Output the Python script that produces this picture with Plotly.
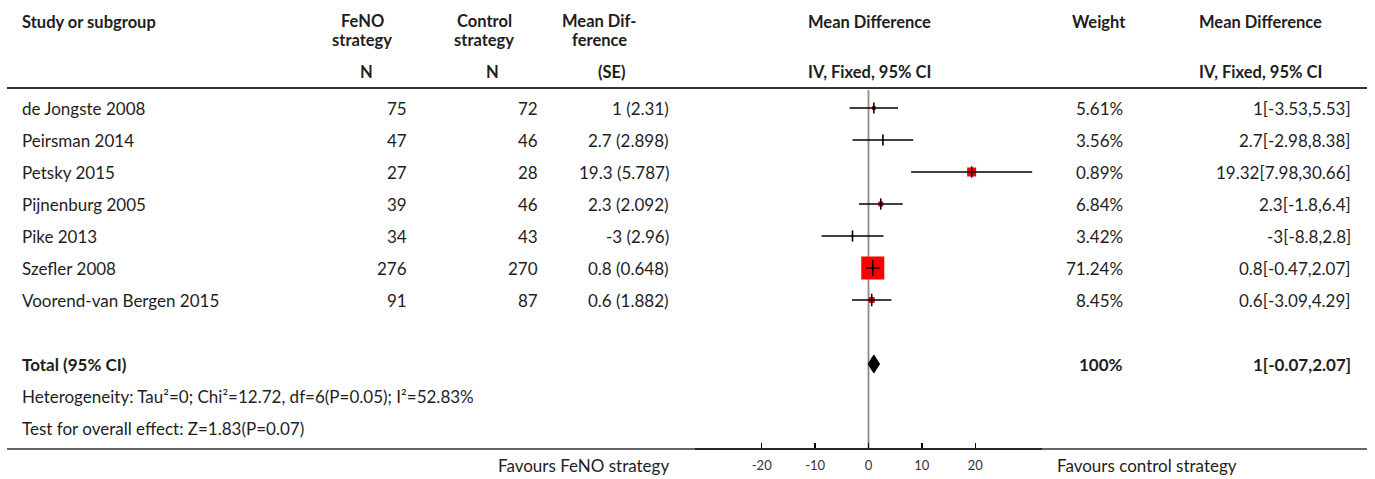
import plotly.graph_objects as go

# ---------------- data ----------------
studies = ["de Jongste 2008", "Peirsman 2014", "Petsky 2015", "Pijnenburg 2005",
           "Pike 2013", "Szefler 2008", "Voorend-van Bergen 2015"]
n_feno = [75, 47, 27, 39, 34, 276, 91]
n_ctrl = [72, 46, 28, 46, 43, 270, 87]
md_se_md = [1, 2.7, 19.3, 2.3, -3, 0.8, 0.6]
md_se_se = [2.31, 2.898, 5.787, 2.092, 2.96, 0.648, 1.882]
md = [1, 2.7, 19.32, 2.3, -3, 0.8, 0.6]
ci_low = [-3.53, -2.98, 7.98, -1.8, -8.8, -0.47, -3.09]
ci_high = [5.53, 8.38, 30.66, 6.4, 2.8, 2.07, 4.29]
weights = [5.61, 3.56, 0.89, 6.84, 3.42, 71.24, 8.45]
total_weight = 100
total_md = 1
total_low = -0.07
total_high = 2.07
heterogeneity = "Heterogeneity: Tau²=0; Chi²=12.72, df=6(P=0.05); I²=52.83%"
overall_effect = "Test for overall effect: Z=1.83(P=0.07)"
tick_vals = [-20, -10, 0, 10, 20]
tick_text = ["-20", "-10", "0", "10", "20"]
favours_left = "Favours FeNO strategy"
favours_right = "Favours control strategy"

# ---------------- styles ----------------
box_sizes = [4, 2, 9, 5, 2, 23, 6]
tick_heights = [8, 8, 8, 8, 8, 11, 9]
W, H = 1375, 479
FONT = "Lato"
TXT = "#1e1e1e"
FS = 17
HFS = 16.5

row_top = 108.0
row_step = 32.0
def prow(px):
    return (px - row_top) / row_step

fig = go.Figure()

rows = list(range(len(studies)))
total_row = len(studies) + 1
het_row = total_row + 1
test_row = total_row + 2

# boxes
fig.add_trace(go.Scatter(x=md, y=rows, mode="markers",
                         marker=dict(symbol="square", size=box_sizes, color="#ff0000",
                                     opacity=1, line=dict(width=0)),
                         opacity=1, hoverinfo="skip", showlegend=False))
# CI lines on top of boxes (cross look)
for i in rows:
    fig.add_trace(go.Scatter(x=[ci_low[i], ci_high[i]], y=[i, i], mode="lines",
                             line=dict(color="black", width=1.6),
                             hoverinfo="skip", showlegend=False))
# vertical ticks of the crosses
fig.add_trace(go.Scatter(x=md, y=rows, mode="markers",
                         marker=dict(symbol="line-ns", size=tick_heights, opacity=1,
                                     line=dict(color="black", width=1.6)),
                         hoverinfo="skip", showlegend=False))
# diamond
dh = 9 / row_step
fig.add_trace(go.Scatter(x=[total_low, total_md, total_high, total_md, total_low],
                         y=[total_row, total_row - dh, total_row, total_row + dh, total_row],
                         mode="lines", fill="toself", fillcolor="black",
                         line=dict(color="black", width=1),
                         hoverinfo="skip", showlegend=False))

shapes = []
# zero line
shapes.append(dict(type="line", xref="x", yref="y", x0=0, x1=0,
                   y0=prow(90), y1=prow(449), line=dict(color="#8c8c8c", width=1.8),
                   layer="below"))
# header separator and bottom separator
shapes.append(dict(type="line", xref="paper", yref="y", x0=7 / W, x1=1367 / W,
                   y0=prow(88), y1=prow(88), line=dict(color="#333333", width=2)))
shapes.append(dict(type="line", xref="paper", yref="y", x0=7 / W, x1=1367 / W,
                   y0=prow(449), y1=prow(449), line=dict(color="#333333", width=1.5)))

ann = []
def txt(x, y, s, anchor="left", bold=False, size=FS):
    ann.append(dict(x=x / W, xref="paper", y=y, yref="y", text=("<b>%s</b>" % s) if bold else s,
                    showarrow=False, xanchor=anchor, yanchor="middle",
                    font=dict(family=FONT, size=size, color=TXT)))

# headers
txt(20, prow(22), "Study or subgroup", "left", True, HFS)
txt(362, prow(21), "FeNO", "center", True, HFS)
txt(362, prow(39.5), "strategy", "center", True, HFS)
txt(366, prow(72), "N", "center", True, HFS)
txt(484, prow(21), "Control", "center", True, HFS)
txt(484, prow(39.5), "strategy", "center", True, HFS)
txt(492, prow(72), "N", "center", True, HFS)
txt(599, prow(21), "Mean Dif-", "center", True, HFS)
txt(599, prow(39.5), "ference", "center", True, HFS)
txt(612, prow(72), "(SE)", "center", True, HFS)
txt(869, prow(22), "Mean Difference", "center", True, HFS)
txt(869, prow(72), "IV, Fixed, 95% CI", "center", True, HFS)
txt(1099, prow(22), "Weight", "center", True, HFS)
txt(1260, prow(22), "Mean Difference", "center", True, HFS)
txt(1260, prow(72), "IV, Fixed, 95% CI", "center", True, HFS)

# study rows
for i in rows:
    txt(20, i, studies[i])
    txt(409, i, str(n_feno[i]), "right")
    txt(540, i, str(n_ctrl[i]), "right")
    txt(671, i, f"{md_se_md[i]:g} ({md_se_se[i]:g})", "right")
    txt(1125, i, f"{weights[i]:g}%", "right")
    txt(1353, i, f"{md[i]:g}[{ci_low[i]:g},{ci_high[i]:g}]", "right")

# total
txt(20, total_row, "Total (95% CI)", "left", True)
txt(1125, total_row, f"{total_weight:g}%", "right", True)
txt(1353, total_row, f"{total_md:g}[{total_low:g},{total_high:g}]", "right", True)
txt(20, het_row, heterogeneity)
txt(20, test_row, overall_effect)

# favours
txt(671, prow(465), favours_left, "right")
txt(1055, prow(465), favours_right, "left")

fig.update_layout(
    width=W, height=H,
    margin=dict(l=0, r=0, t=0, b=0),
    paper_bgcolor="white", plot_bgcolor="white",
    shapes=shapes, annotations=ann,
    xaxis=dict(domain=[695 / W, 1042 / W], range=[-32.5, 32.5],
               anchor="free", position=(H - 449) / H,
               showline=True, linecolor="black", linewidth=2,
               ticks="inside", ticklen=5, tickwidth=1.5, tickcolor="black",
               tickvals=tick_vals, ticktext=tick_text, showgrid=False, zeroline=False,
               tickfont=dict(family=FONT, size=13, color="#333333"),
               ticklabelstandoff=4, fixedrange=True),
    yaxis=dict(range=[prow(H), prow(0)], visible=False, showgrid=False,
               zeroline=False, domain=[0, 1], fixedrange=True),
)

fig.write_html("out.html", config={"displayModeBar": False, "staticPlot": True},
               post_script="document.body.style.margin='0px';document.body.style.overflow='hidden';")
